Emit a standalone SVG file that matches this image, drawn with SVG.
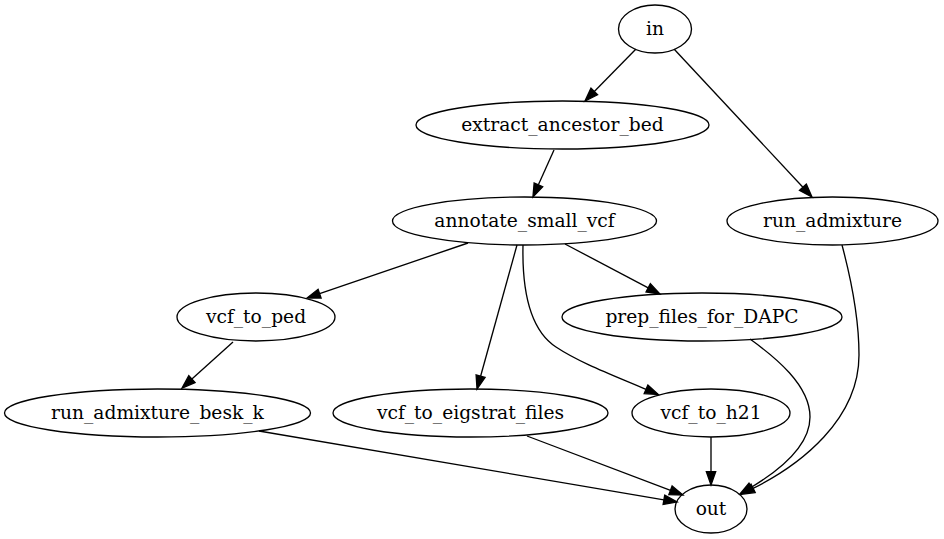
<svg xmlns="http://www.w3.org/2000/svg" width="944" height="539" viewBox="0 0 944 539">
<style>
.node ellipse{fill:none;stroke:#000;stroke-width:1.33}
.node text{font-family:'DejaVu Serif','Liberation Serif',serif;font-size:18.67px;text-anchor:middle;fill:#000}
.edge{fill:none;stroke:#000;stroke-width:1.33;marker-end:url(#arr)}
</style>
<defs>
<marker id="arr" markerUnits="userSpaceOnUse" viewBox="0 0 13.33 9.33" markerWidth="13.33" markerHeight="9.33" refX="0" refY="4.67" orient="auto" overflow="visible">
<path d="M0,0 L13.33,4.67 L0,9.33 z" fill="#000" stroke="#000" stroke-width="1.33"/>
</marker>
</defs>
<rect width="944" height="539" fill="#fff"/>
<g id="connectors">
<path class="edge" d="M636,49 L594.3,91.5"/>
<path class="edge" d="M674,49 L802.9,187.25"/>
<path class="edge" d="M554,150 L538.4,184.8"/>
<path class="edge" d="M468,243 L319.6,293.7"/>
<path class="edge" d="M517,245 L480.6,376.2"/>
<path class="edge" d="M565,244 L648.2,287.8"/>
<path class="edge" d="M523,245 C522,290 530,330 556,347 C580,363 615,376 646,389.3"/>
<path class="edge" d="M233,342 L191.9,379.1"/>
<path class="edge" d="M259,431 L663.9,499.8"/>
<path class="edge" d="M527,436 L670.5,490.3"/>
<path class="edge" d="M711,437 L711,471.7"/>
<path class="edge" d="M750,339 C775,357 810,385 810,417 C810,445 780,470 751.4,487.2"/>
<path class="edge" d="M842,245 C850,275 859,315 859,355 C859,420 800,465 753.1,488.4"/>
</g>
<g id="in" class="node"><ellipse cx="655" cy="29" rx="36.5" ry="24"/><text x="655" y="34.5">in</text></g>
<g id="extract_ancestor_bed" class="node"><ellipse cx="562.5" cy="125" rx="146.5" ry="24"/><text x="562.5" y="130.5">extract_ancestor_bed</text></g>
<g id="annotate_small_vcf" class="node"><ellipse cx="524.5" cy="221" rx="132" ry="24"/><text x="524.5" y="226.5">annotate_small_vcf</text></g>
<g id="run_admixture" class="node"><ellipse cx="832.5" cy="221" rx="105.5" ry="24"/><text x="832.5" y="226.5">run_admixture</text></g>
<g id="vcf_to_ped" class="node"><ellipse cx="256" cy="317" rx="79" ry="24"/><text x="256" y="322.5">vcf_to_ped</text></g>
<g id="prep_files_for_DAPC" class="node"><ellipse cx="702" cy="317" rx="140" ry="24"/><text x="702" y="322.5">prep_files_for_DAPC</text></g>
<g id="run_admixture_besk_k" class="node"><ellipse cx="157.5" cy="413" rx="153" ry="24"/><text x="157.5" y="418.5">run_admixture_besk_k</text></g>
<g id="vcf_to_eigstrat_files" class="node"><ellipse cx="470.5" cy="413" rx="137.5" ry="24"/><text x="470.5" y="418.5">vcf_to_eigstrat_files</text></g>
<g id="vcf_to_h21" class="node"><ellipse cx="711" cy="413" rx="79" ry="24"/><text x="711" y="418.5">vcf_to_h21</text></g>
<g id="out" class="node"><ellipse cx="711" cy="509" rx="36" ry="24"/><text x="711" y="514.5">out</text></g>
</svg>
